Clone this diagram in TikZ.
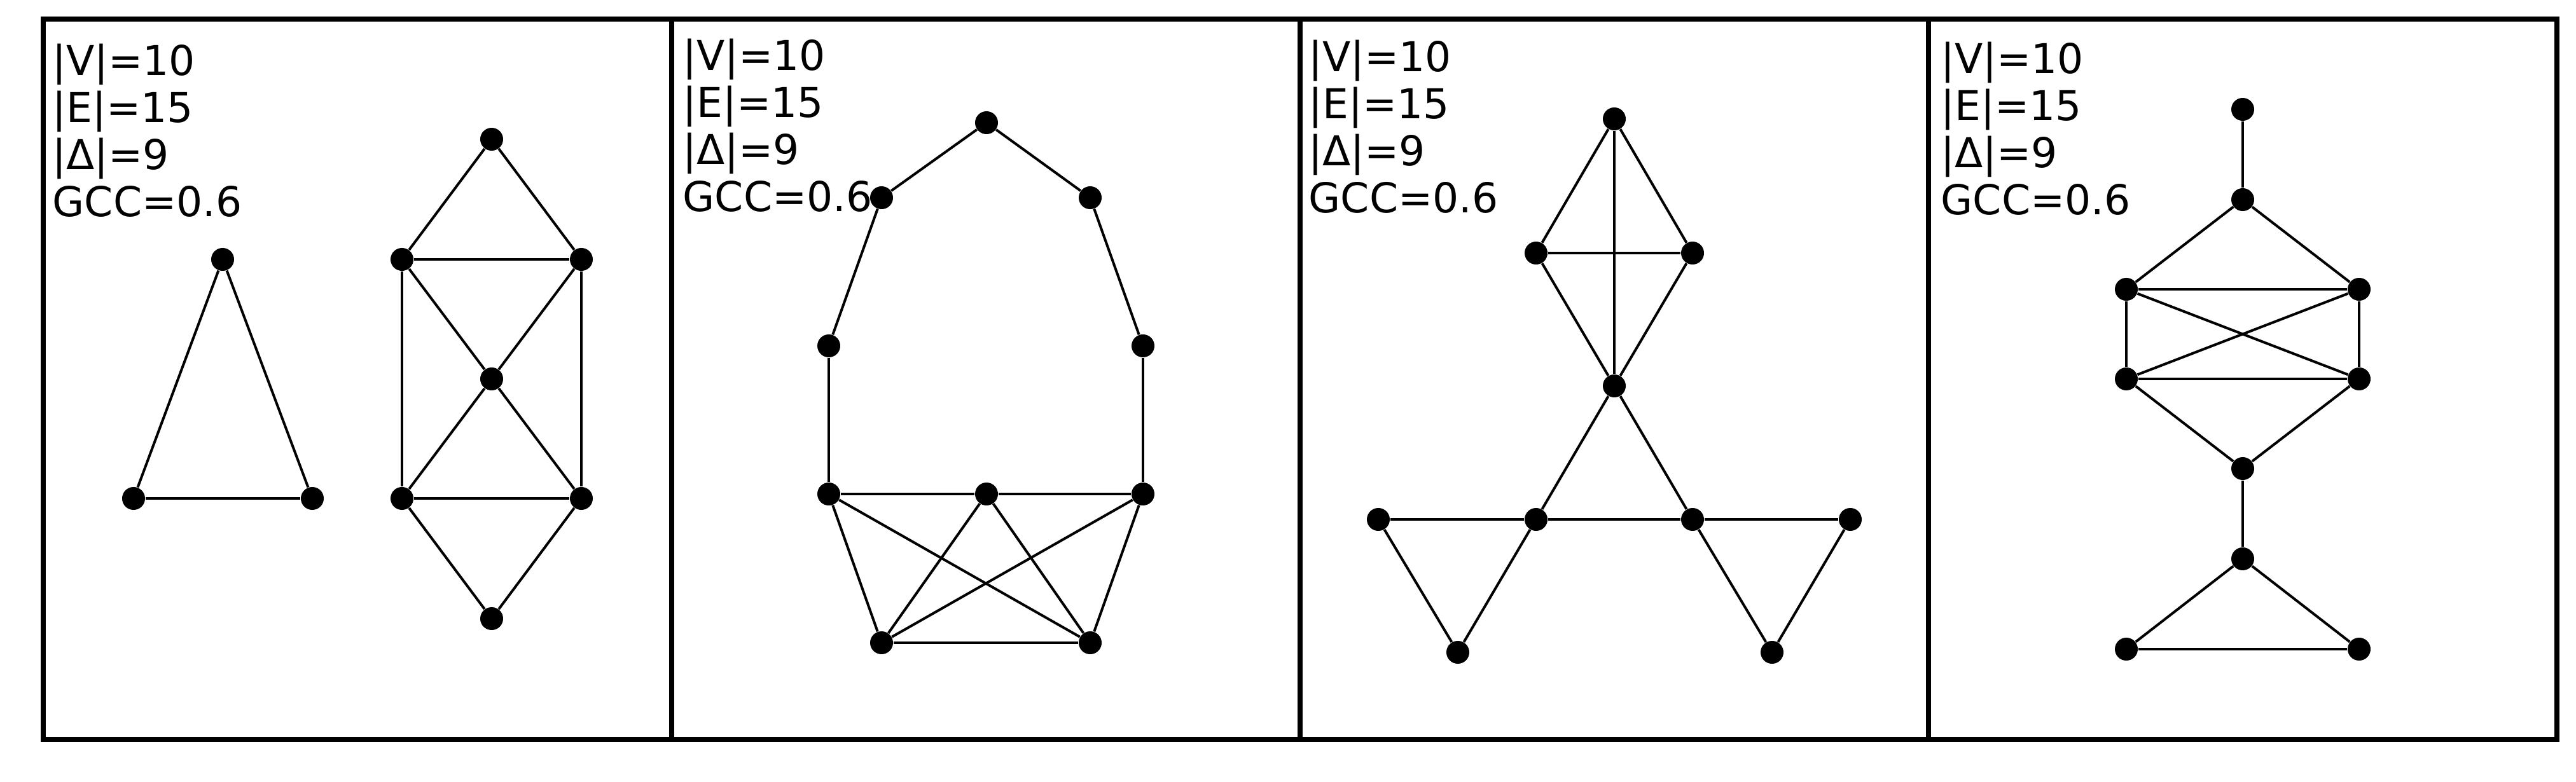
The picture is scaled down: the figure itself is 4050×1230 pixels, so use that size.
\documentclass[tikz,border=0pt]{standalone}
\usepackage{fontspec}
\setmainfont{DejaVu Sans}

\begin{document}
\begin{tikzpicture}[
  x=0.01cm,
  y=-0.01cm,
  panel/.style={line width=0.08cm, black},
  vertex/.style={circle, fill=black, inner sep=0pt, minimum size=0.36cm},
  edge/.style={line width=0.04cm, black},
  stats/.style={anchor=north west, inner sep=0pt, align=left,
                font=\fontsize{18.4}{21.06}\selectfont}
]

  \useasboundingbox (0,0) rectangle (4050,1230);

  % Four panel frames side by side.
  \foreach \xa/\xb in {68/1056,1056/2044,2044/3032,3032/4020}
    \draw[panel] (\xa,30) rectangle (\xb,1163);

  % Graph statistics in each panel.
  \node[stats] (info1) at (82,68)   {|V|=10\\|E|=15\\|Δ|=9\\GCC=0.6};
  \node[stats] (info2) at (1073,60) {|V|=10\\|E|=15\\|Δ|=9\\GCC=0.6};
  \node[stats] (info3) at (2057,62) {|V|=10\\|E|=15\\|Δ|=9\\GCC=0.6};
  \node[stats] (info4) at (3051,65) {|V|=10\\|E|=15\\|Δ|=9\\GCC=0.6};

  % Panel 1: triangle and a stacked diamond.
  \node[vertex] (a1) at (350,408) {};
  \node[vertex] (a2) at (210,784) {};
  \node[vertex] (a3) at (491,784) {};
  \node[vertex] (b1) at (773,219) {};
  \node[vertex] (b2) at (632,408) {};
  \node[vertex] (b3) at (914,408) {};
  \node[vertex] (b4) at (773,596) {};
  \node[vertex] (b5) at (632,784) {};
  \node[vertex] (b6) at (914,784) {};
  \node[vertex] (b7) at (773,973) {};
  \foreach \u/\v in {a1/a2,a1/a3,a2/a3,b1/b2,b1/b3,b2/b3,b2/b5,b3/b6,
                     b2/b4,b3/b4,b4/b5,b4/b6,b5/b6,b5/b7,b6/b7}
    \draw[edge] (\u) -- (\v);

  % Panel 2: long cycle over a dense bottom.
  \node[vertex] (c1)  at (1551,193)  {};
  \node[vertex] (c2)  at (1386,311)  {};
  \node[vertex] (c3)  at (1714,311)  {};
  \node[vertex] (c4)  at (1303,544)  {};
  \node[vertex] (c5)  at (1797,544)  {};
  \node[vertex] (c6)  at (1303,777)  {};
  \node[vertex] (c7)  at (1551,777)  {};
  \node[vertex] (c8)  at (1797,777)  {};
  \node[vertex] (c9)  at (1386,1011) {};
  \node[vertex] (c10) at (1714,1011) {};
  \foreach \u/\v in {c1/c2,c1/c3,c2/c4,c3/c5,c4/c6,c5/c8,c6/c7,c7/c8,
                     c6/c9,c6/c10,c7/c9,c7/c10,c8/c9,c8/c10,c9/c10}
    \draw[edge] (\u) -- (\v);

  % Panel 3: three triangles around a hub.
  \node[vertex] (d1)  at (2538,187)  {};
  \node[vertex] (d2)  at (2415,398)  {};
  \node[vertex] (d3)  at (2661,398)  {};
  \node[vertex] (d4)  at (2538,607)  {};
  \node[vertex] (d5)  at (2167,817)  {};
  \node[vertex] (d6)  at (2415,817)  {};
  \node[vertex] (d7)  at (2661,817)  {};
  \node[vertex] (d8)  at (2909,817)  {};
  \node[vertex] (d9)  at (2292,1026) {};
  \node[vertex] (d10) at (2786,1026) {};
  \foreach \u/\v in {d1/d2,d1/d3,d1/d4,d2/d3,d2/d4,d3/d4,d4/d6,d4/d7,
                     d6/d7,d5/d6,d5/d9,d6/d9,d7/d8,d7/d10,d8/d10}
    \draw[edge] (\u) -- (\v);

  % Panel 4: vertical chain with a crossed box.
  \node[vertex] (e1)  at (3526,172)  {};
  \node[vertex] (e2)  at (3526,314)  {};
  \node[vertex] (e3)  at (3343,455)  {};
  \node[vertex] (e4)  at (3709,455)  {};
  \node[vertex] (e5)  at (3343,596)  {};
  \node[vertex] (e6)  at (3709,596)  {};
  \node[vertex] (e7)  at (3526,737)  {};
  \node[vertex] (e8)  at (3526,879)  {};
  \node[vertex] (e9)  at (3343,1021) {};
  \node[vertex] (e10) at (3709,1021) {};
  \foreach \u/\v in {e1/e2,e2/e3,e2/e4,e3/e4,e3/e5,e4/e6,e3/e6,e4/e5,
                     e5/e6,e5/e7,e6/e7,e7/e8,e8/e9,e8/e10,e9/e10}
    \draw[edge] (\u) -- (\v);

\end{tikzpicture}
\end{document}
